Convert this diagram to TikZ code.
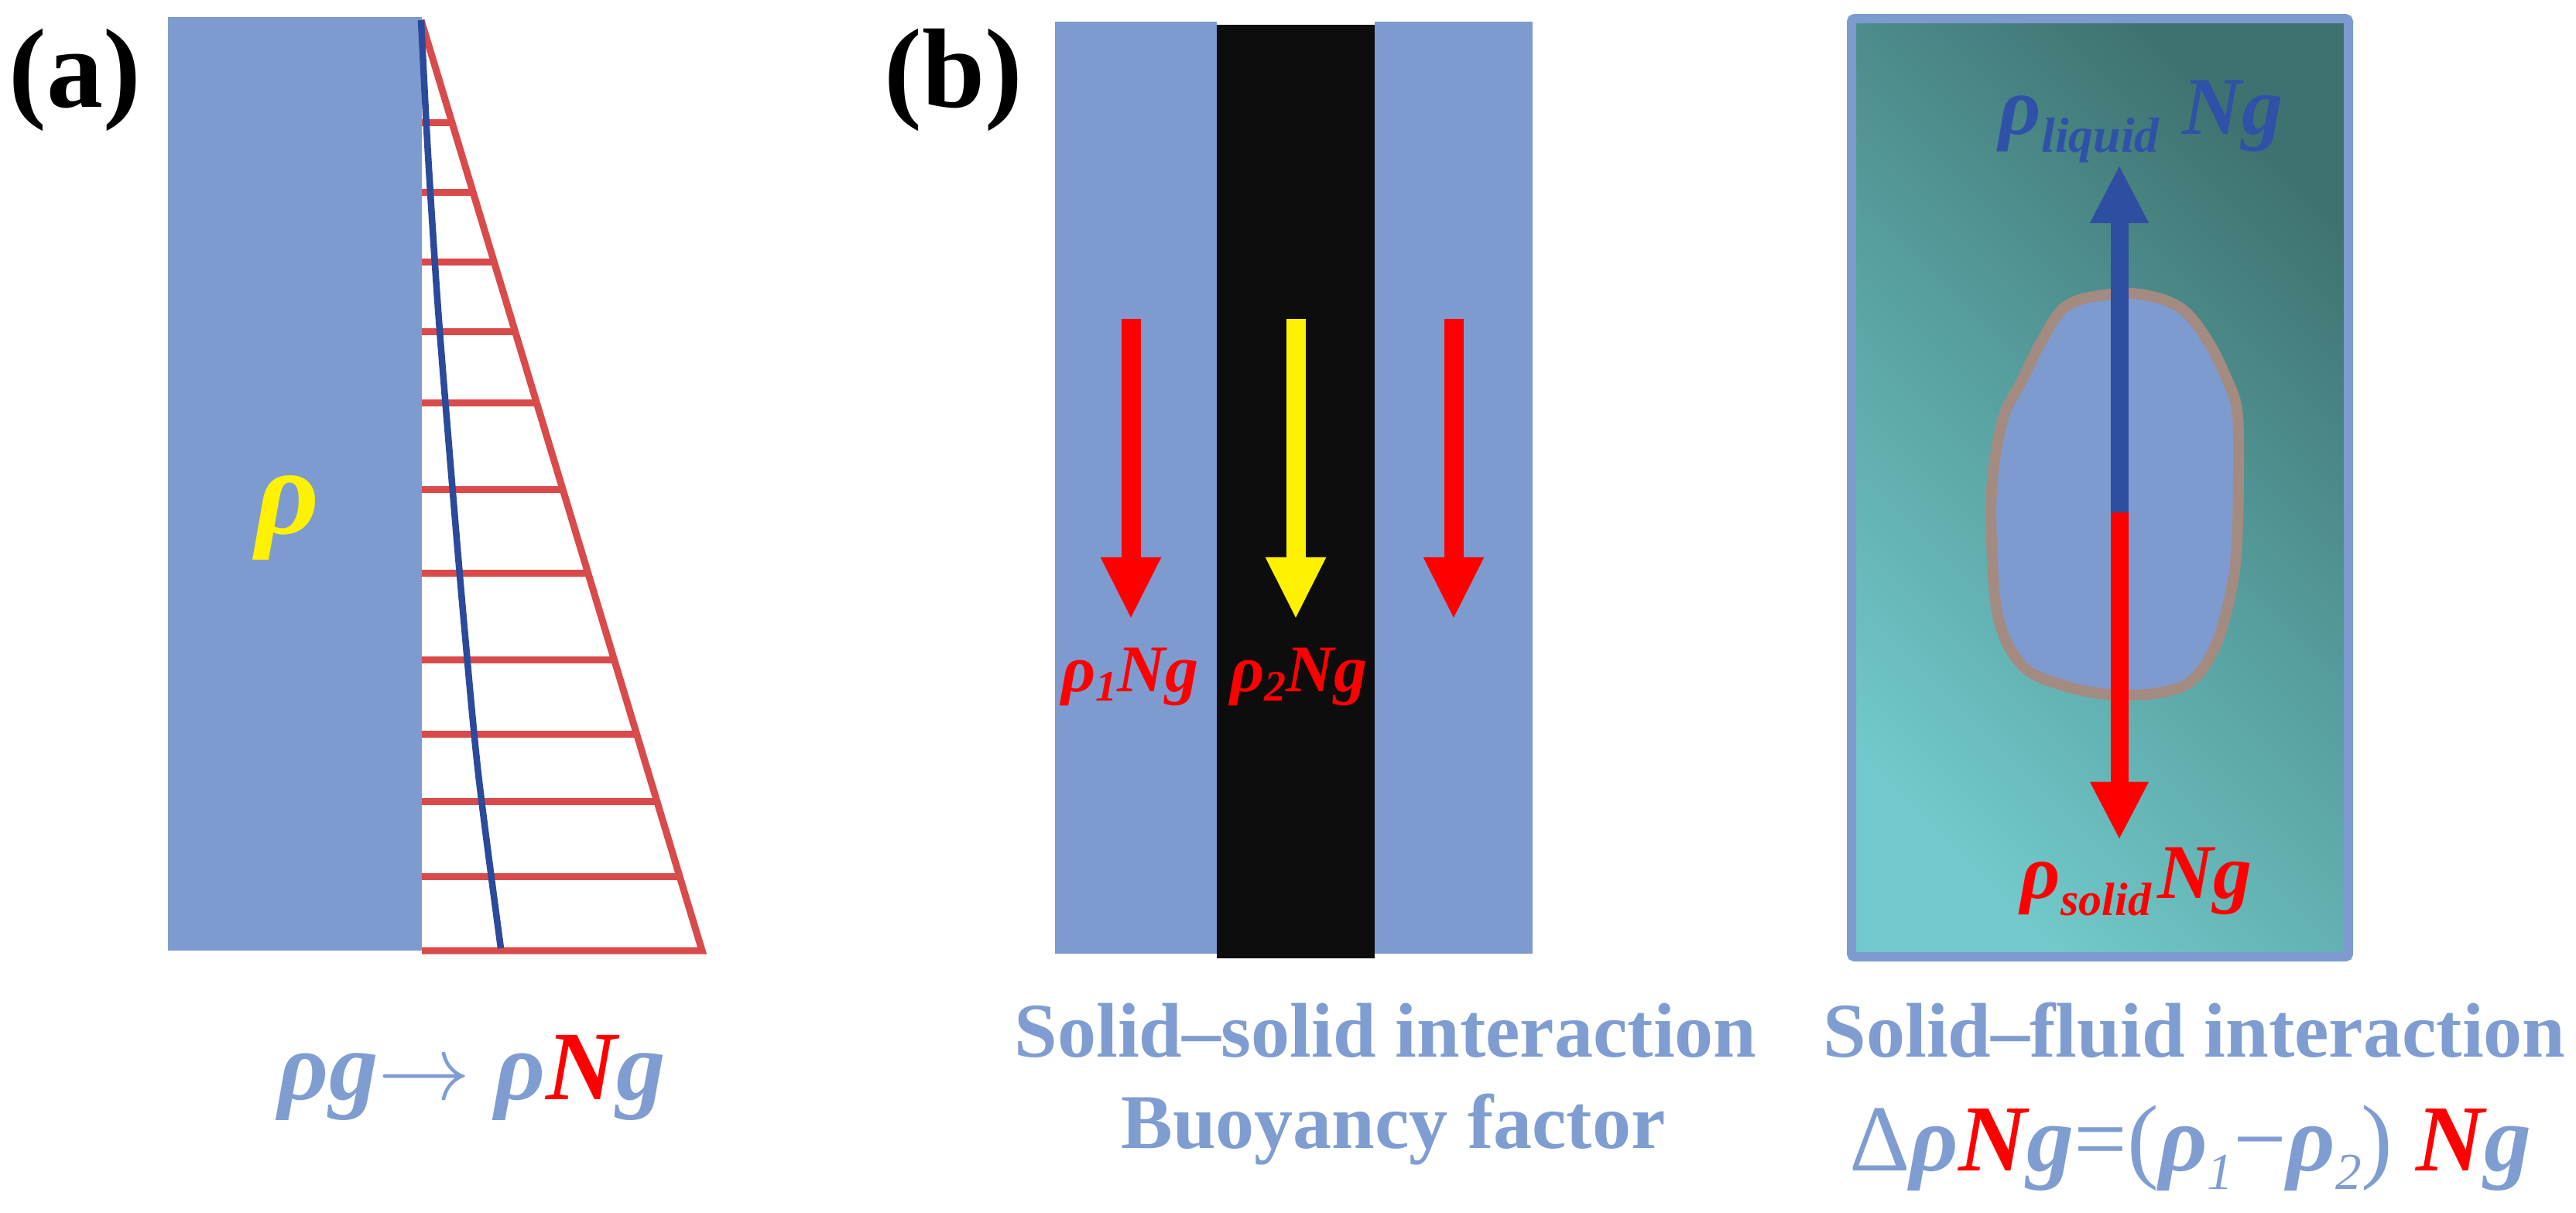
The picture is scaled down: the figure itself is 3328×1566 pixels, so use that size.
\documentclass[tikz,border=0pt]{standalone}
\usepackage{fontspec}
\setmainfont{Liberation Serif}
\usepackage{graphicx}
\usetikzlibrary{arrows.meta}

\definecolor{colblue}{RGB}{126,155,208}
\definecolor{txtblue}{RGB}{127,157,209}
\definecolor{hatchred}{RGB}{217,74,74}
\definecolor{curveblue}{RGB}{43,74,155}
\definecolor{darkcol}{RGB}{13,13,13}
\definecolor{arrblue}{RGB}{46,78,162}
\definecolor{liqblue}{RGB}{47,82,168}
\definecolor{blobline}{RGB}{163,139,130}
\definecolor{tealdark}{RGB}{62,114,112}
\definecolor{tealmid}{RGB}{88,160,160}
\definecolor{teallight}{RGB}{114,200,202}

\newcommand\fpx[1]{\fontsize{#1}{#1}\selectfont}
\newcommand\lowsub[3]{\raisebox{-#1em}{\scalebox{#2}{#3}}}
\newcommand\bi[1]{\textbf{\textit{#1}}}

\tikzset{
  panellabel/.style={font=\fpx{41.5}\bfseries, text=black, anchor=base, inner sep=0pt},
  captext/.style={font=\fpx{28.45}\bfseries, text=txtblue, anchor=base, inner sep=0pt},
  hatch/.style={hatchred, line width=0.09cm},
  forcearrow/.style={line width=0.25cm, -{Triangle[width=0.72cm,length=0.8cm]}},
  fluidarrow/.style={line width=0.23cm, -{Triangle[width=0.7cm,length=0.75cm]}},
  forcelabel/.style={font=\fpx{24.5}\bfseries\itshape, text=red, anchor=base, inner sep=0pt}
}

\begin{document}
\begin{tikzpicture}[x=0.01cm,y=-0.01cm]
\useasboundingbox (0,0) rectangle (3328,1566);
\fill[white] (0,0) rectangle (3328,1566);

% ---------------- panel (a)
\node[panellabel] (labA) at (97,138) {(a)};
\fill[colblue] (217,22) rectangle (545,1228);
\foreach \yy in {158,248,338,428,520,632,740,852,948,1035,1132}{
  \draw[hatch] (545,\yy) -- ({544+(\yy-26)*0.302},\yy);
}
\draw[hatch, line join=miter] (544,26) -- (907,1228) -- (545,1228);
\draw[curveblue, line width=0.085cm] plot[smooth] coordinates
  {(544,26) (553,200) (566,400) (582,600) (599,800) (618,1000) (647,1225)};
\node[font=\fpx{45.5}\bfseries\itshape, text=yellow, anchor=base, inner sep=0pt] (rhoA) at (372,689) {ρ};
\node[font=\fpx{36.1}, text=txtblue, anchor=base, inner sep=0pt] (lawA) at (610,1420)
  {\bi{ρg}\scalebox{3.4}{\fontsize{10}{10}\selectfont$\rightarrow$} \bi{ρ\textcolor{red}{N}g}};

% ---------------- panel (b), solid-solid
\node[panellabel] (labB) at (1232,138) {(b)};
\fill[colblue] (1363,28) rectangle (1572,1232);
\fill[darkcol] (1572,32) rectangle (1776,1238);
\fill[colblue] (1776,28) rectangle (1980,1232);

\coordinate (f1s) at (1461,412); \coordinate (f1e) at (1461,800);
\coordinate (f2s) at (1674,412); \coordinate (f2e) at (1674,800);
\coordinate (f3s) at (1878,412); \coordinate (f3e) at (1878,800);
\draw[forcearrow, red] (f1s) -- (f1e);
\draw[forcearrow, yellow] (f2s) -- (f2e);
\draw[forcearrow, red] (f3s) -- (f3e);

\node[forcelabel] (lab1) at (1460,893) {ρ\lowsub{0.15}{0.65}{1}Ng};
\node[forcelabel] (lab2) at (1678,893) {ρ\lowsub{0.15}{0.65}{2}Ng};

\node[captext] (capSS) at (1790,1365) {Solid–solid interaction};
\node[captext] (capBF) at (1800,1483) {Buoyancy factor};

% ---------------- solid-fluid
\shade[top color=tealdark, bottom color=teallight, middle color=tealmid, shading angle=-45]
  (2392,24) rectangle (3034,1236);
\draw[colblue, line width=0.12cm, rounded corners=0.04cm] (2392,24) rectangle (3034,1236);

\filldraw[fill=colblue, draw=blobline, line width=0.14cm] plot[smooth cycle, tension=0.6] coordinates {
 (2670,395) (2726,380) (2776,382) (2820,400) (2852,440) (2877,490) (2890,530)
 (2892,600) (2890,700) (2883,760) (2864,830) (2833,878) (2789,895) (2726,897)
 (2664,885) (2613,860) (2582,800) (2573,700) (2574,620) (2588,540) (2613,490) (2638,440)};

\coordinate (fc) at (2738,662);
\coordinate (fup) at (2738,213);
\coordinate (fdn) at (2738,1085);
\draw[fluidarrow, arrblue] (fc) -- (fup);
\draw[fluidarrow, red] (fc) -- (fdn);

\node[font=\fpx{30.2}\bfseries\itshape, text=liqblue, anchor=base west, inner sep=0pt] (liqlab) at (2582,173)
  {ρ\lowsub{0.22}{0.6}{liquid}\hspace{0.28em}Ng};
\node[font=\fpx{28.45}\bfseries\itshape, text=red, anchor=base west, inner sep=0pt] (sollab) at (2610,1160)
  {ρ\lowsub{0.22}{0.6}{solid}\hspace{0.08em}Ng};

\node[captext] (capSF) at (2835,1365) {Solid–fluid interaction};
\node[font=\fpx{34.7}, text=txtblue, anchor=base, inner sep=0pt] (eqSF) at (2830,1512)
  {Δ\bi{ρ\textcolor{red}{N}g}=(\bi{ρ}\lowsub{0.2}{0.55}{\textit{1}}−\bi{ρ}\lowsub{0.2}{0.55}{\textit{2}}) \bi{\textcolor{red}{N}g}};
\end{tikzpicture}
\end{document}
